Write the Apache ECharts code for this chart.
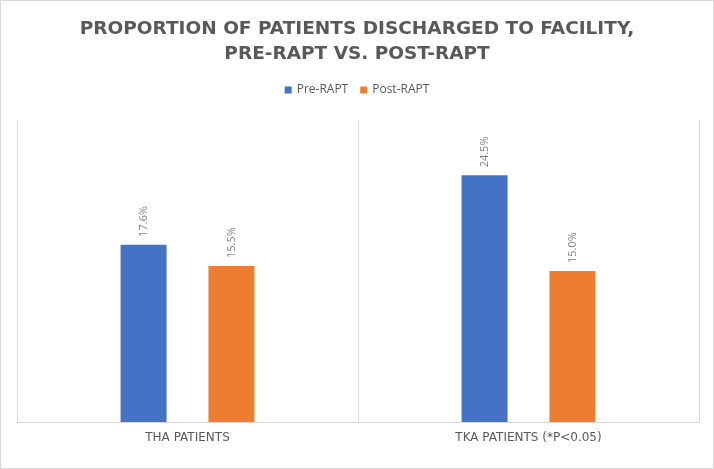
<!DOCTYPE html>
<html><head><meta charset="utf-8">
<script src="https://cdn.jsdelivr.net/npm/echarts@6/dist/echarts.min.js"></script>
<style>html,body{margin:0;padding:0;background:#fff}#c{width:712px;height:467px;border:1px solid #d9d9d9}</style>
</head><body><div id="c"></div>
<script>
const categories = ['THA PATIENTS', 'TKA PATIENTS (*P<0.05)'];
const seriesNames = ['Pre-RAPT', 'Post-RAPT'];
const preRapt = [17.6, 24.5];
const postRapt = [15.5, 15.0];
const chart = echarts.init(document.getElementById('c'));
const labelCfg = {show:true, position:'top', rotate:90, align:'left', verticalAlign:'middle', distance:8,
  color:'#7f7f7f', fontSize:11, fontFamily:'Open Sans', formatter: p => p.value.toFixed(1) + '%'};
chart.setOption({
  animation:false,
  title:{text:'PROPORTION OF PATIENTS DISCHARGED TO FACILITY,\nPRE-RAPT VS. POST-RAPT', left:'center', top:11,
    textStyle:{fontFamily:'DejaVu Sans', fontWeight:'bold', fontSize:18.5, lineHeight:25, color:'#595959'}},
  legend:{data:seriesNames, top:78, left:'center', itemWidth:7, itemHeight:7, itemGap:12, icon:'rect',
    textStyle:{fontFamily:'Open Sans', fontSize:12, color:'#595959'}},
  grid:{left:16, right:14, top:119, bottom:46},
  xAxis:{type:'category', data:categories,
    axisLine:{lineStyle:{color:'#d9d9d9'}}, axisTick:{show:false},
    splitLine:{show:true, lineStyle:{color:'#d9d9d9'}},
    axisLabel:{fontFamily:'DejaVu Sans', fontSize:12, color:'#595959', margin:10}},
  yAxis:{type:'value', min:0, max:30, show:false, splitLine:{show:false}},
  series:[
    {name:seriesNames[0], type:'bar', data:preRapt, barWidth:46, barGap:'91%', itemStyle:{color:'#4472C4'}, label:labelCfg},
    {name:seriesNames[1], type:'bar', data:postRapt, barWidth:46, itemStyle:{color:'#ED7D31'}, label:labelCfg}
  ]
});
</script></body></html>
